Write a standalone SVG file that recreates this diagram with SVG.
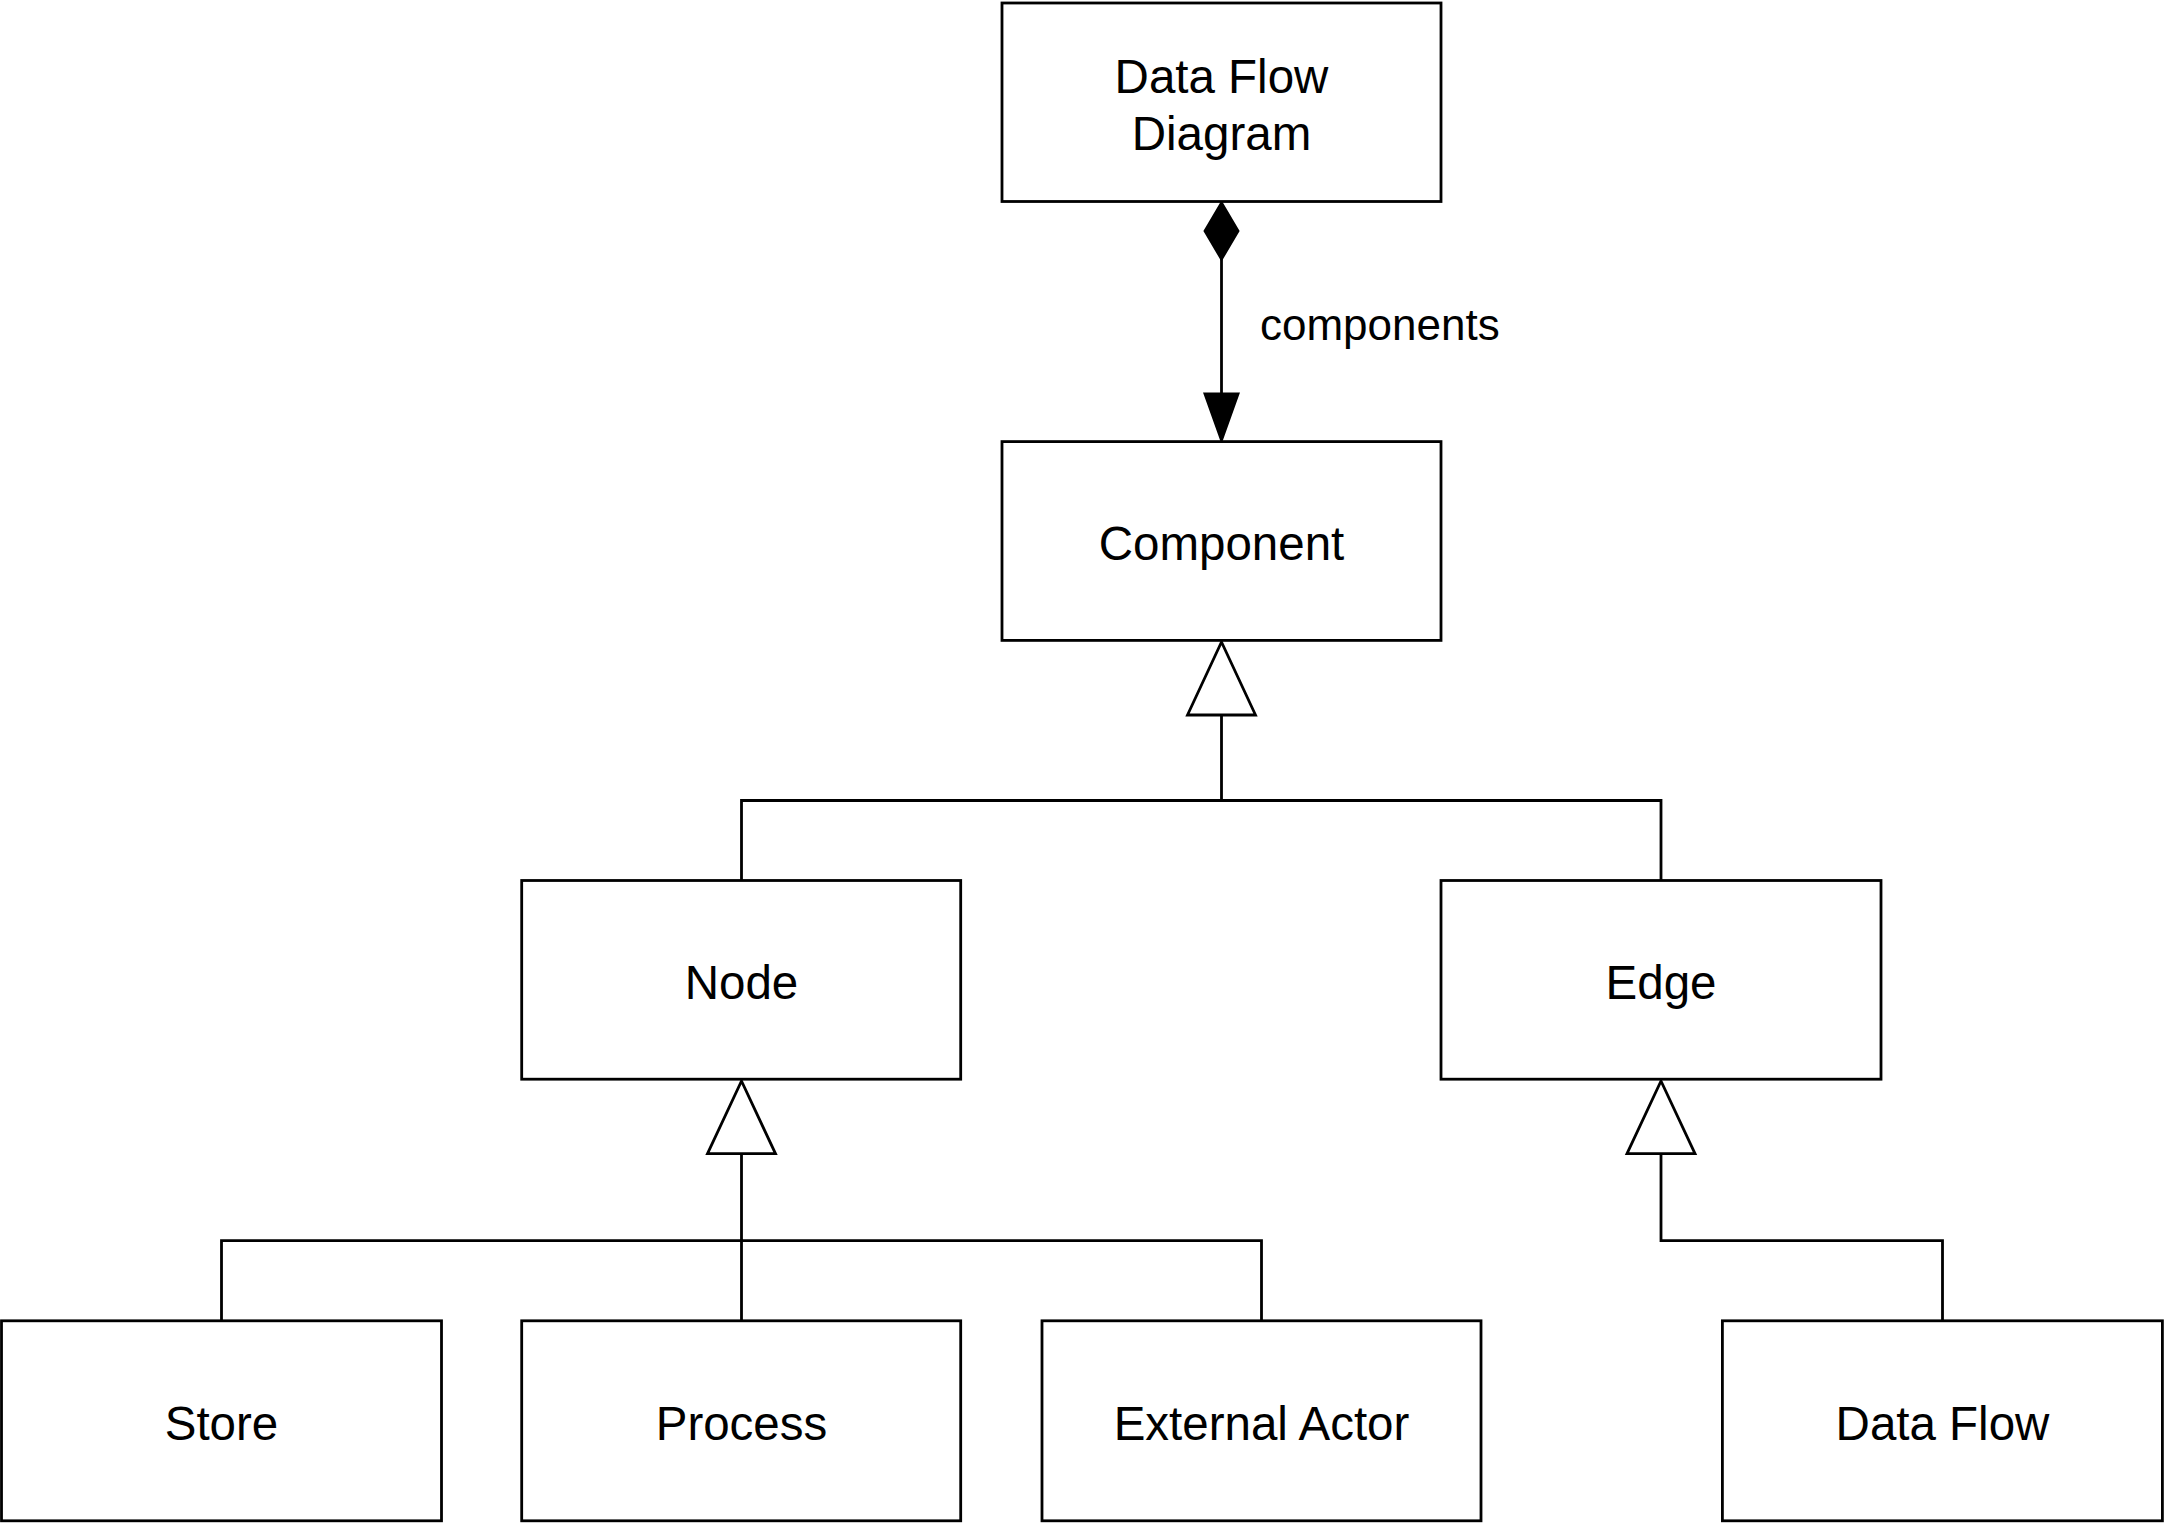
<svg xmlns="http://www.w3.org/2000/svg" width="2164" height="1524" viewBox="0 0 2164 1524">
<style>
.box{fill:#fff;stroke:#000;stroke-width:2.8}
.t{font-family:"Liberation Sans",Arial,sans-serif;font-size:47.5px;fill:#000;text-anchor:middle}
.lbl{font-family:"Liberation Sans",Arial,sans-serif;font-size:44px;fill:#000}
.ln{fill:none;stroke:#000;stroke-width:2.8}
.hollow{fill:#fff;stroke:#000;stroke-width:2.8}
.solid{fill:#000;stroke:#000;stroke-width:2.8}
</style>
<rect width="2164" height="1524" fill="#fff"/>
<g id="connectors">
<path class="ln" d="M1221.5 255 V396"/>
<polygon class="solid" points="1221.5,203 1238,231 1221.5,259 1205,231"/>
<polygon class="solid" points="1205,394 1238,394 1221.5,440"/>
<text class="lbl" x="1260" y="340">components</text>
<path class="ln" d="M1221.5 715 V800.5 M741.5 880.5 V800.5 H1661 V880.5"/>
<polygon class="hollow" points="1221.5,642 1255.5,715 1187.5,715"/>
<path class="ln" d="M741.5 1153.7 V1320.8 M221.5 1320.8 V1240.7 H1261.5 V1320.8"/>
<polygon class="hollow" points="741.5,1081 775.5,1153.7 707.5,1153.7"/>
<path class="ln" d="M1661 1153.7 V1240.7 H1942.5 V1320.8"/>
<polygon class="hollow" points="1661,1081 1695,1153.7 1627,1153.7"/>
</g>
<g id="dfd"><rect class="box" x="1002" y="3" width="439" height="198.5"/><text class="t" x="1221.5" y="93">Data Flow</text><text class="t" x="1221.5" y="150">Diagram</text></g>
<g id="component"><rect class="box" x="1002" y="441.6" width="439" height="198.8"/><text class="t" x="1221.5" y="560">Component</text></g>
<g id="node"><rect class="box" x="521.7" y="880.5" width="439" height="198.7"/><text class="t" x="741.5" y="999">Node</text></g>
<g id="edge"><rect class="box" x="1441" y="880.5" width="440" height="198.7"/><text class="t" x="1661" y="999">Edge</text></g>
<g id="store"><rect class="box" x="1.5" y="1320.8" width="440" height="200"/><text class="t" x="221.5" y="1440">Store</text></g>
<g id="process"><rect class="box" x="521.7" y="1320.8" width="439" height="200"/><text class="t" x="741.5" y="1440">Process</text></g>
<g id="external-actor"><rect class="box" x="1042" y="1320.8" width="439" height="200"/><text class="t" x="1261.5" y="1440">External Actor</text></g>
<g id="data-flow"><rect class="box" x="1722.4" y="1320.8" width="440" height="200"/><text class="t" x="1942.5" y="1440">Data Flow</text></g>
</svg>
